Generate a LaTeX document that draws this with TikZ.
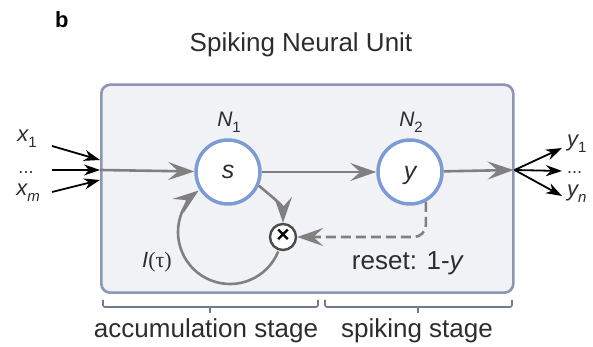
\documentclass[tikz,border=0pt]{standalone}
\usepackage{fontspec}
\setmainfont{Liberation Sans}
\newfontfamily\serifgreek{Liberation Serif}
\usetikzlibrary{arrows.meta,calc}

\definecolor{boxfill}{RGB}{241,242,246}
\definecolor{boxedge}{RGB}{140,150,183}
\definecolor{ringblue}{RGB}{125,155,213}
\definecolor{flowgrey}{RGB}{128,128,128}
\definecolor{textdark}{RGB}{45,45,45}

\tikzset{
  x=1pt, y=1pt,
  every node/.style={text=textdark, inner sep=0pt},
  unitbox/.style={draw=boxedge, line width=2.6pt, fill=boxfill, rounded corners=9pt},
  neuron/.style={circle, draw=ringblue, line width=3.5pt, fill=white, minimum size=64pt},
  multnode/.style={circle, draw=black!70, line width=2.4pt, fill=white, minimum size=26pt},
  flow/.style={draw=flowgrey, line width=2.6pt,
    -{Stealth[length=26pt, width=18pt, inset=10pt]}},
  resetflow/.style={flow, dash pattern=on 10pt off 5pt, rounded corners=12pt},
  io/.style={draw=black, line width=1.8pt, -{Stealth[length=16pt, width=11pt, inset=5pt]}},
  brace/.style={draw=boxedge!80!black, line width=1.6pt, rounded corners=2pt},
  biglabel/.style={font=\fontsize{26}{30}\selectfont},
  varlabel/.style={font=\fontsize{22}{26}\selectfont\itshape},
  nlabel/.style={font=\fontsize{21}{25}\selectfont\itshape},
  dots/.style={font=\fontsize{18}{20}\selectfont, anchor=base},
}
\newcommand{\lowsub}[1]{\raisebox{-0.25em}{\fontsize{15}{17}\selectfont #1}}

\begin{document}
\begin{tikzpicture}
  \useasboundingbox (0,0) rectangle (593,347);

  % panel letter and title
  \node[anchor=base west, font=\fontsize{22}{26}\selectfont\bfseries, text=black] (panel) at (55,319) {b};
  \node[anchor=base, biglabel] (title) at (301,295) {Spiking Neural Unit};

  % the unit
  \node[unitbox, minimum width=412pt, minimum height=208pt, anchor=south west] (unit) at (100,53) {};
  \coordinate (inport) at (unit.west |- 0,177);
  \coordinate (outport) at (unit.east |- 0,177);

  % neurons
  \node[neuron] (N1) at (228,175) {};
  \node[varlabel, font=\fontsize{25}{28}\selectfont\itshape] (s) at (N1) {s};
  \node[neuron] (N2) at (410,175) {};
  \node[varlabel, font=\fontsize{25}{28}\selectfont\itshape] (yv) at ([yshift=-3pt]N2) {y};
  \node[nlabel, anchor=base] (N1lab) at (229,220) {N\lowsub{\upshape 1}};
  \node[nlabel, anchor=base] (N2lab) at (411,220) {N\lowsub{\upshape 2}};

  % multiplier
  \node[multnode] (mult) at (283,110) {};
  \node[font=\fontsize{23}{26}\selectfont\bfseries, text=black] (times) at ([yshift=1pt]mult) {×};

  % main signal path
  \draw[flow] (inport) -- (N1);
  \draw[flow] (N1) -- (N2);
  \draw[flow] (N2) -- ([xshift=-1pt]outport);

  % state to multiplier, leak loop back to the accumulator
  \draw[flow] (N1.-24) to[out=-40, in=90] (mult.north);
  \coordinate (loopc) at (230,115);
  \draw[flow] ([shift={(-22:52)}]loopc) arc[start angle=-22, end angle=-233, radius=52];

  % reset path
  \draw[resetflow] (N2.-62) |- (mult.east);

  % loop and reset labels
  \node[anchor=base, font=\fontsize{22}{26}\selectfont] (leak) at (157,79)
    {\textit{I}\serifgreek(τ)};
  \node[anchor=base, biglabel] (reset) at (408,77) {reset: 1-\textit{y}};

  % inputs
  \node[varlabel, anchor=base] (x1) at (27,205) {x\lowsub{\upshape 1}};
  \node[dots] (xd) at (26,173) {...};
  \node[varlabel, anchor=base] (xm) at (28,151) {x\lowsub{m}};
  \coordinate (xa) at (52,201);
  \coordinate (xb) at (52,177);
  \coordinate (xc) at (52,155);
  \draw[io] (xa) -- ([yshift=10pt]inport);
  \draw[io] (xb) -- (inport);
  \draw[io] (xc) -- ([yshift=-10pt]inport);

  % outputs
  \coordinate (ya) at (562,199);
  \coordinate (yb) at (562,176);
  \coordinate (yc) at (562,151);
  \draw[io] (outport) -- (ya);
  \draw[io] (outport) -- (yb);
  \draw[io] (outport) -- (yc);
  \node[varlabel, anchor=base west] (y1) at (567,200) {y\lowsub{\upshape 1}};
  \node[dots, anchor=base west] (yd) at (567,173) {...};
  \node[varlabel, anchor=base west] (yn) at (567,150) {y\lowsub{n}};

  % stage brackets
  \coordinate (b1l) at (103,47);
  \coordinate (b1r) at (318,47);
  \coordinate (b2l) at (325,47);
  \coordinate (b2r) at (512,47);
  \draw[brace] (b1l) -- ++(0,-7) -| (b1r);
  \draw[brace] (210,40) -- ++(0,-6);
  \draw[brace] (b2l) -- ++(0,-7) -| (b2r);
  \draw[brace] (418,40) -- ++(0,-6);

  % stage names
  \node[anchor=base, biglabel] (acc) at (206,9) {accumulation stage};
  \node[anchor=base, biglabel] (spk) at (417,9) {spiking stage};
\end{tikzpicture}
\end{document}
